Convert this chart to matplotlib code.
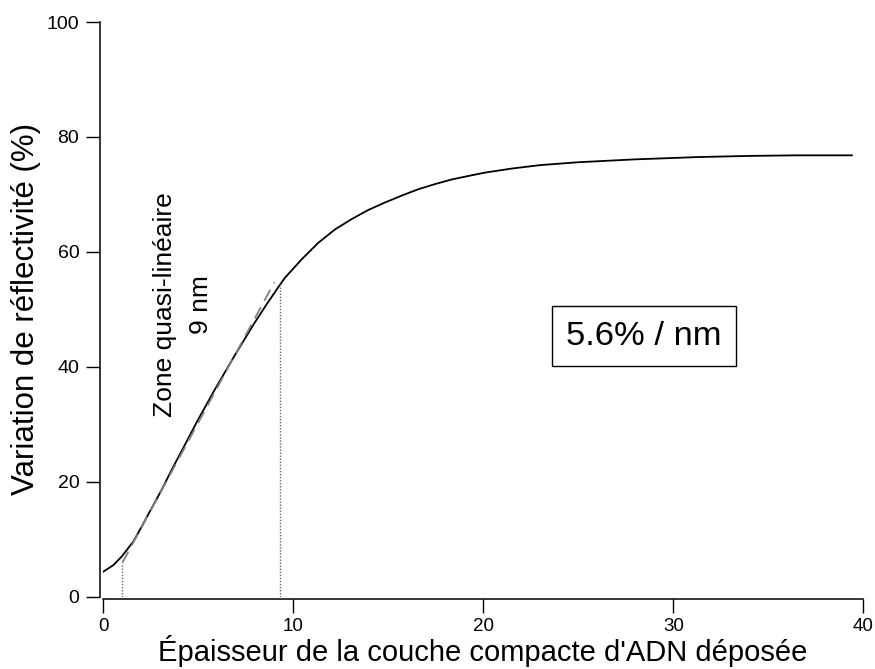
import matplotlib
matplotlib.use("Agg")
import matplotlib.pyplot as plt

plt.rcParams['font.family'] = ['Liberation Sans', 'DejaVu Sans']

# reflectivity curve
thickness = [0, 0.53, 0.97, 1.58, 2.02, 2.46, 3.07, 3.6, 4.21, 4.92, 5.86, 6.9, 7.95,
             8.6, 9.26, 9.56, 10.44, 11.32, 12.19, 13.07, 13.95, 14.83, 15.71, 16.58,
             17.46, 18.34, 19.2, 20.1, 21.5, 23.0, 25.0, 28.0, 31.3, 34.0, 36.5, 39.4]
reflect = [4.36, 5.5, 7.0, 9.6, 12.2, 14.9, 18.6, 22.1, 25.9, 30.4, 36.0, 41.9, 47.6,
           50.9, 54.1, 55.5, 58.7, 61.6, 63.9, 65.7, 67.3, 68.6, 69.8, 70.9,
           71.8, 72.6, 73.2, 73.8, 74.5, 75.1, 75.6, 76.1, 76.5, 76.7, 76.8, 76.8]

# linear fit segment (dashed) and zone limits (dotted)
fit_x = [1.0, 9.0]
fit_y = [5.9, 54.7]
zone_x = [1.0, 9.3]
zone_top = [5.9, 54.4]

xticks = [0, 10, 20, 30, 40]
yticks = [0, 20, 40, 60, 80, 100]

fig = plt.figure(figsize=(8.75, 6.69), dpi=100)
ax = fig.add_axes([0.1181, 0.1081, 0.8685, 0.859])

ax.plot(thickness, reflect, color='black', lw=1.3)
ax.plot(fit_x, fit_y, color='#808080', lw=1.3, dashes=(7, 4))
for xv, top in zip(zone_x, zone_top):
    ax.plot([xv, xv], [0, top], color='#666666', lw=1.0, dashes=(1, 1.2))

ax.set_xlim(0, 40)
ax.set_ylim(0, 100)
ax.set_xticks(xticks)
ax.set_yticks(yticks)

for side in ['top', 'right']:
    ax.spines[side].set_visible(False)
ax.spines['left'].set_position(('outward', 2.3))
ax.spines['bottom'].set_position(('outward', 1.6))
for side in ['left', 'bottom']:
    ax.spines[side].set_linewidth(1.1)
ax.tick_params(axis='both', direction='out', length=10, width=1.0, labelsize=14)
ax.tick_params(axis='y', pad=5)
ax.tick_params(axis='x', pad=3.5, labelsize=13.5)

ax.set_ylabel("Variation de réflectivité (%)", fontsize=22.5, labelpad=4)
# x label placed by its baseline, just under the tick labels
fig.text(0.552, 8 / 669, "Épaisseur de la couche compacte d'ADN déposée",
         fontsize=21, ha='center', va='baseline')

ax.text(4.2, 50.9, "Zone quasi-linéaire\n9 nm", rotation=90, fontsize=19,
        ha='center', va='center', multialignment='center', linespacing=1.6)

ax.text(28.45, 45.3, "5.6% / nm", fontsize=24.8, ha='center', va='center',
        bbox=dict(boxstyle='square,pad=0.42', fc='white', ec='black', lw=1.0))

fig.savefig("out.png", dpi=100)
